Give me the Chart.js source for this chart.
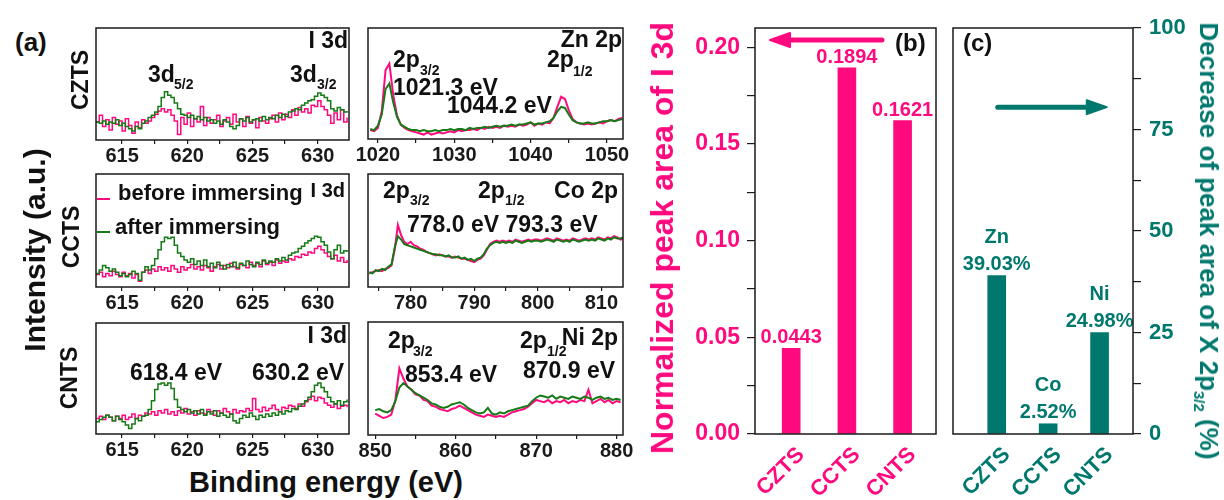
<!DOCTYPE html>
<html>
<head>
<meta charset="utf-8">
<script src="https://cdn.jsdelivr.net/npm/chart.js@4.4.0/dist/chart.umd.min.js"></script>
<style>
  body { margin: 0; background: #fff; }
  #fig { position: relative; width: 1224px; height: 500px; overflow: hidden; background: #fff;
         font-family: "Liberation Sans", Arial, sans-serif; }
  #fig canvas { position: absolute; }
  .t { position: absolute; white-space: nowrap; line-height: 1; font-weight: bold; color: #111; }
  .leg { position: absolute; height: 2px; width: 13px; }
</style>
</head>
<body>
<div id="fig"></div>
<script>
// ---- data ----
const samples = ["CZTS", "CCTS", "CNTS"];
const elements = ["Zn", "Co", "Ni"];
const iodineArea = [0.0443, 0.1894, 0.1621];
const peakDecrease = [39.03, 2.52, 24.98];
const iodineTicks = [0, 0.05, 0.10, 0.15, 0.20];
const decreaseTicks = [0, 25, 50, 75, 100];

const i3dTicks = [615, 620, 625, 630];
const znTicks = [1020, 1030, 1040, 1050];
const coTicks = [780, 790, 800, 810];
const niTicks = [850, 860, 870, 880];

// energy grids: first point, spacing (eV)
const i3dGrid = [613, 0.25];
const znGrid = [1019, 0.5];
const coGrid = [773.5, 0.5];
const niGrid = [850, 0.5];

// intensities, read as % of each panel's height
const cztsI3dBefore = [16,22,12,18,9,20,14,17,8,19, 13,6,16,11,18,15,17,20,23,26,
  28,25,27,22,17,5,20,14,24,12, 19,16,30,13,20,15,18,22,12,17, 20,14,23,16,19,12,21,15,18,11,
  20,17,15,19,22,16,24,18,23,20, 27,22,29,25,28,24,31,30,35,30, 27,22,15,24,18,27,16,20];
const cztsI3dAfter = [16,15,17,14,16,15,18,13,15,12, 10,8,12,10,15,17,20,22,25,30,
  38,43,40,38,33,28,23,22,20,22, 19,21,18,20,17,18,15,17,14,18, 16,12,10,13,19,17,20,16,18,19,
  17,21,18,20,19,22,20,23,21,25, 26,28,27,31,33,35,36,39,42,40, 38,35,28,26,29,27,25,26];
const cctsI3dBefore = [11,13,9,12,10,14,11,9,13,10, 12,8,11,5,13,15,12,16,14,18,
  15,17,14,19,16,13,18,15,17,20, 16,18,15,19,17,14,18,20,16,19, 17,21,18,16,20,19,17,22,19,21,
  18,23,20,22,19,24,21,23,22,25, 24,27,26,29,28,31,30,34,36,33, 30,27,25,28,23,26,22,24];
const cctsI3dAfter = [12,15,19,17,14,16,13,10,12,9, 11,14,12,6,13,18,15,19,25,33,
  40,44,43,44,37,30,27,24,22,25, 20,23,19,24,18,21,17,22,19,16, 20,18,22,17,21,19,23,20,18,22,
  20,24,21,23,22,25,23,26,24,28, 30,31,34,36,39,41,43,45,44,40, 37,31,25,33,37,30,32,31];
const cntsI3dBefore = [14,16,13,17,15,12,16,14,17,13, 15,18,14,17,16,19,18,20,17,21,
  19,22,18,20,17,21,19,23,18,20, 17,21,19,18,22,20,17,21,19,23, 20,18,22,19,21,20,23,21,32,22,
  20,24,21,23,26,22,20,24,23,26, 25,23,27,25,29,31,34,30,33,32, 28,26,24,27,23,25,26,24];
const cntsI3dAfter = [11,13,15,17,15,12,16,13,11,8, 5,9,14,12,16,17,22,30,40,45,
  46,44,46,41,31,24,22,20,22,19, 21,18,22,17,20,18,21,16,19,17, 15,18,12,10,14,17,15,19,16,13,
  17,15,18,16,19,17,20,18,21,20, 23,22,25,27,30,33,38,44,46,42, 38,33,29,27,30,26,29,31];

const zn2pBefore = [8,7,10,25,62,68,40,21,13,10, 8,7,6,5,4,6,4,5,6,5, 6,7,6,8,7,8,8,9,8,10,
  9,11,10,11,10,12,11,12,11,13, 12,13,15,12,14,13,15,14,19,29, 38,36,26,18,15,14,13,14,13,14,
  15,14,16,17,16,18,19];
const zn2pAfter = [9,8,12,22,45,50,33,20,13,11, 9,8,8,7,8,7,7,8,7,8, 8,9,8,9,9,8,10,9,10,10,
  11,10,11,12,11,12,12,13,12,13, 13,14,15,13,14,14,15,16,19,25, 29,28,22,17,15,14,14,15,14,14,
  15,16,16,17,16,17,18];
const co2pBefore = [12,13,14,15,14,16,17,19,33,55, 46,40,38,40,37,36,34,33,31,30,
  29,28,29,28,27,27,26,27,26,25, 25,24,23,22,24,25,28,33,38,40, 41,40,41,40,41,40,42,41,40,41,
  42,41,42,42,41,42,43,42,41,43, 42,41,42,41,43,42,41,42,43,42, 43,42,44,43,42,44,43,45,44,42, 43];
const co2pAfter = [13,12,15,14,16,15,18,20,35,45, 42,38,37,36,35,34,33,32,31,30,
  29,29,28,28,27,28,26,26,27,25, 26,24,25,23,25,26,29,34,37,39, 40,39,40,39,40,39,41,40,39,40,
  41,40,41,41,40,41,42,41,40,42, 41,40,41,40,42,41,40,41,42,41, 42,41,43,42,41,43,42,44,43,43, 44];
const ni2pBefore = [19,17,15,16,18,31,59,50,43,40, 36,35,31,30,26,25,23,22,21,23,
  24,26,24,22,20,18,17,16,18,17, 16,17,16,18,20,21,22,23,25,28, 31,30,29,31,28,30,29,31,28,30,
  29,31,30,40,28,30,32,29,31,28, 30,29];
const ni2pAfter = [22,23,21,20,22,30,42,46,43,40, 37,35,33,31,28,27,25,24,25,27,
  28,29,27,24,22,20,19,20,24,19, 18,20,19,21,22,23,24,25,26,30, 33,35,34,33,35,32,34,33,32,34,
  33,32,34,33,31,33,34,32,33,31, 32,31];

// ---- style ----
const PINK = "#FF0A7E";
const GREEN = "#167A16";
const TEAL = "#00786E";
const INK = "#1a1a1a";
const FONT = '"Liberation Sans", Arial, sans-serif';

Chart.defaults.font.family = FONT;
Chart.defaults.animation = false;
Chart.defaults.devicePixelRatio = 1;

const fig = document.getElementById("fig");

function addCanvas(x, y, w, h) {
  const c = document.createElement("canvas");
  c.width = w; c.height = h;
  c.style.left = x + "px"; c.style.top = y + "px";
  c.style.width = w + "px"; c.style.height = h + "px";
  fig.appendChild(c);
  return c;
}

const frame = {
  id: "frame",
  afterDraw(chart) {
    const { ctx, chartArea: a } = chart;
    ctx.save();
    ctx.strokeStyle = INK;
    ctx.lineWidth = 1.5;
    ctx.strokeRect(a.left, a.top, a.right - a.left, a.bottom - a.top);
    ctx.restore();
  }
};

function withMinors(ticks, lo, hi) {
  const h = (ticks[1] - ticks[0]) / 2;
  let vals = [];
  ticks.forEach(v => { vals.push(v - h, v); });
  vals.push(ticks[ticks.length - 1] + h);
  return vals.filter(v => v >= lo - 1e-9 && v <= hi + 1e-9);
}

function isMajor(ticks, v) {
  return ticks.some(t => Math.abs(t - v) < 1e-9);
}

function toPoints(grid, ys) {
  return ys.map((y, i) => ({ x: grid[0] + grid[1] * i, y: y }));
}

function spectrum(box, range, ticks, grid, before, after, stepped) {
  const side = 30, above = 4, below = 30;
  const c = addCanvas(box.l - side, box.t - above, box.w + 2 * side, box.h + above + below);
  const lw = stepped ? 1.5 : 2;
  const hidden = { display: true, min: 0, max: 100, ticks: { display: false },
                   grid: { display: false }, border: { display: false } };
  new Chart(c, {
    type: "line",
    data: {
      datasets: [
        { data: toPoints(grid, after), borderColor: GREEN, borderWidth: lw, pointRadius: 0,
          stepped: stepped, order: 0 },
        { data: toPoints(grid, before), borderColor: PINK, borderWidth: lw, pointRadius: 0,
          stepped: stepped, order: 1 }
      ]
    },
    options: {
      responsive: false,
      events: [],
      layout: { padding: { top: above } },
      plugins: { legend: { display: false }, tooltip: { enabled: false } },
      scales: {
        x: {
          type: "linear", min: range[0], max: range[1],
          afterBuildTicks: s => { s.ticks = withMinors(ticks, range[0], range[1]).map(v => ({ value: v })); },
          afterFit: s => { s.height = below; },
          ticks: {
            autoSkip: false, maxRotation: 0, padding: 0, color: INK,
            font: { size: 20, weight: "bold" },
            callback: v => isMajor(ticks, v) ? String(v) : ""
          },
          grid: { display: true, drawOnChartArea: false, drawTicks: true, tickLength: 4, color: INK, lineWidth: 1.2 },
          border: { display: false }
        },
        y: Object.assign({ position: "left", afterFit: s => { s.width = side; } }, hidden),
        y2: Object.assign({ position: "right", afterFit: s => { s.width = side; } }, hidden)
      }
    },
    plugins: [frame]
  });
}

function barText(lines, color, gap, lineGap) {
  return {
    id: "barText",
    afterDatasetsDraw(chart) {
      const ctx = chart.ctx;
      ctx.save();
      ctx.fillStyle = color;
      ctx.font = "bold 20px " + FONT;
      ctx.textAlign = "center";
      ctx.textBaseline = "alphabetic";
      chart.getDatasetMeta(0).data.forEach((bar, i) => {
        const rows = lines[i];
        rows.forEach((row, j) => {
          ctx.fillText(row, bar.x, bar.y - gap - (rows.length - 1 - j) * lineGap);
        });
      });
      ctx.restore();
    }
  };
}

function arrow(x0, x1, y, color, yId) {
  return {
    id: "arrow",
    afterDraw(chart) {
      const ctx = chart.ctx;
      const sx = chart.scales.x, sy = chart.scales[yId];
      const a = sx.getPixelForValue(x0), b = sx.getPixelForValue(x1), py = sy.getPixelForValue(y);
      const dir = Math.sign(b - a), head = 20;
      ctx.save();
      ctx.strokeStyle = color; ctx.fillStyle = color;
      ctx.lineWidth = 5; ctx.lineCap = "round";
      ctx.beginPath(); ctx.moveTo(a, py); ctx.lineTo(b - dir * head, py); ctx.stroke();
      ctx.lineJoin = "round"; ctx.lineWidth = 2;
      ctx.beginPath();
      ctx.moveTo(b, py); ctx.lineTo(b - dir * head, py - 7); ctx.lineTo(b - dir * head, py + 7);
      ctx.closePath(); ctx.fill(); ctx.stroke();
      ctx.restore();
    }
  };
}

function barChart(opts) {
  const c = addCanvas(opts.x, 0, opts.w, 500);
  const yTicks = opts.yTicks;
  const yAxis = {
    position: opts.yPos, min: 0, max: opts.yMax,
    afterBuildTicks: s => { s.ticks = withMinors(yTicks, 0, opts.yMax).map(v => ({ value: v })); },
    afterFit: s => { s.width = opts.yWidth; },
    ticks: {
      autoSkip: false, padding: opts.yPad, color: opts.color,
      font: { size: opts.yFont, weight: "bold" },
      callback: v => isMajor(yTicks, v) ? opts.fmt(v) : ""
    },
    grid: { display: true, drawOnChartArea: false, drawTicks: true, tickLength: 8, color: INK, lineWidth: 1.2 },
    border: { display: false }
  };
  const scales = {
    x: {
      type: "linear", min: opts.xRange[0], max: opts.xRange[1], offset: false,
      afterBuildTicks: s => { s.ticks = samples.map((_, i) => ({ value: i + 1 })); },
      afterFit: s => { s.height = 66; },
      ticks: {
        autoSkip: false, minRotation: 45, maxRotation: 45, padding: 0, labelOffset: 10, color: opts.color,
        font: { size: 22, weight: "bold" },
        callback: v => samples[v - 1]
      },
      grid: { display: false, offset: false },
      border: { display: false }
    },
    y: yAxis
  };
  if (opts.dummyLeft) {
    scales.yL = { position: "left", display: true, min: 0, max: 1, afterFit: s => { s.width = opts.dummyLeft; },
                  ticks: { display: false }, grid: { display: false }, border: { display: false } };
  }
  new Chart(c, {
    type: "bar",
    data: {
      datasets: [{
        data: opts.values.map((v, i) => ({ x: i + 1, y: v })),
        backgroundColor: opts.color, barThickness: 18, yAxisID: "y"
      }]
    },
    options: {
      responsive: false,
      events: [],
      layout: { padding: { top: 28, right: opts.padRight } },
      plugins: { legend: { display: false }, tooltip: { enabled: false } },
      scales: scales
    },
    plugins: [frame, barText(opts.labels, opts.color, opts.gap, 27), opts.arrow]
  });
}

// ---- panel (a): XPS spectra ----
spectrum({ l: 96, t: 28, w: 253, h: 112 }, [613, 632.4], i3dTicks, i3dGrid, cztsI3dBefore, cztsI3dAfter, true);
spectrum({ l: 96, t: 174, w: 253, h: 113 }, [613, 632.4], i3dTicks, i3dGrid, cctsI3dBefore, cctsI3dAfter, true);
spectrum({ l: 96, t: 323, w: 253, h: 111 }, [613, 632.4], i3dTicks, i3dGrid, cntsI3dBefore, cntsI3dAfter, true);
spectrum({ l: 368, t: 28, w: 255, h: 111 }, [1018.7, 1052.1], znTicks, znGrid, zn2pBefore, zn2pAfter, false);
spectrum({ l: 368, t: 174, w: 255, h: 113 }, [773.3, 813.4], coTicks, coGrid, co2pBefore, co2pAfter, false);
spectrum({ l: 368, t: 322, w: 255, h: 113 }, [849.1, 880.8], niTicks, niGrid, ni2pBefore, ni2pAfter, false);

// ---- panel (b): normalized I 3d peak area ----
barChart({
  x: 640, w: 300, color: PINK, values: iodineArea,
  labels: iodineArea.map(v => [v.toFixed(4)]), gap: 5,
  xRange: [0.35, 3.6], yPos: "left", yMax: 0.21, yTicks: iodineTicks, yWidth: 115, yPad: 7, yFont: 23,
  fmt: v => v.toFixed(2), padRight: 4, dummyLeft: 0,
  arrow: arrow(2.63, 0.62, 0.2038, PINK, "y")
});

// ---- panel (c): decrease of X 2p3/2 peak area ----
barChart({
  x: 940, w: 284, color: TEAL, values: peakDecrease,
  labels: elements.map((e, i) => [e, peakDecrease[i].toFixed(2) + "%"]), gap: 6,
  xRange: [0.15, 3.65], yPos: "right", yMax: 100, yTicks: decreaseTicks, yWidth: 91, yPad: 8, yFont: 22,
  fmt: v => String(v), padRight: 0, dummyLeft: 13,
  arrow: arrow(1.02, 3.14, 80.5, TEAL, "y")
});

// ---- text overlays ----
function txt(html, x, base, size, o) {
  o = o || {};
  const d = document.createElement("div");
  d.className = "t";
  d.innerHTML = html;
  d.style.fontSize = size + "px";
  d.style.left = x + "px";
  d.style.top = (base - 0.8465 * size) + "px";
  if (o.color) d.style.color = o.color;
  if (o.align === "right") d.style.transform = "translateX(-100%)";
  if (o.align === "center") d.style.transform = "translateX(-50%)";
  fig.appendChild(d);
}
function rtxt(html, cx, cy, size, deg, color) {
  const d = document.createElement("div");
  d.className = "t";
  d.innerHTML = html;
  d.style.fontSize = size + "px";
  d.style.left = cx + "px";
  d.style.top = cy + "px";
  d.style.transform = "translate(-50%, -50%) rotate(" + deg + "deg)";
  if (color) d.style.color = color;
  fig.appendChild(d);
}
function legLine(x, y, color) {
  const d = document.createElement("div");
  d.className = "leg";
  d.style.left = x + "px"; d.style.top = y + "px"; d.style.background = color;
  fig.appendChild(d);
}

txt("(a)", 15, 51, 26);
txt("(b)", 895, 51, 24);
txt("(c)", 963, 51, 24);

rtxt("CZTS", 80, 80, 23, -90);
rtxt("CCTS", 71, 237, 23, -90);
rtxt("CNTS", 69, 378, 23, -90);
rtxt("Intensity (a.u.)", 35, 250, 30, -90);
txt("Binding energy (eV)", 326, 493, 29, { align: "center" });

// CZTS I 3d
txt("I 3d", 348, 48, 23, { align: "right" });
txt("3d", 148, 82, 23); txt("5/2", 174, 89, 14);
txt("3d", 290, 82, 23); txt("3/2", 317, 89, 14);
// Zn 2p
txt("Zn 2p", 622, 47, 23, { align: "right" });
txt("2p", 393, 67, 23); txt("3/2", 420, 75, 14);
txt("1021.3 eV", 393, 95, 23);
txt("2p", 547, 67, 23); txt("1/2", 573, 76, 14);
txt("1044.2 eV", 447, 113, 23);
// CCTS I 3d + legend
legLine(97, 198, PINK);
txt("before immersing", 118, 201, 22);
txt("I 3d", 345, 197, 20, { align: "right" });
legLine(97, 231, GREEN);
txt("after immersing", 115, 235, 22);
// Co 2p
txt("2p", 383, 198, 23); txt("3/2", 410, 205, 14);
txt("2p", 478, 198, 23); txt("1/2", 505, 205, 14);
txt("Co 2p", 618, 198, 23, { align: "right" });
txt("778.0 eV 793.3 eV", 407, 232, 23);
// CNTS I 3d
txt("I 3d", 347, 343, 23, { align: "right" });
txt("618.4 eV", 130, 380, 23);
txt("630.2 eV", 252, 380, 23);
// Ni 2p
txt("2p", 388, 348, 23); txt("3/2", 413, 356, 14);
txt("853.4 eV", 405, 382, 23);
txt("2p", 520, 348, 23); txt("1/2", 547, 356, 14);
txt("Ni 2p", 618, 345, 23, { align: "right" });
txt("870.9 eV", 523, 378, 23);

// axis titles of panels (b) and (c)
rtxt("Normalized peak area of I 3d", 662, 238, 32, -90, PINK);
rtxt('Decrease of peak area of X 2p<span style="font-size:15px;vertical-align:-6px">3/2</span> (%)',
     1207, 241, 26, 90, TEAL);
</script>
</body>
</html>
